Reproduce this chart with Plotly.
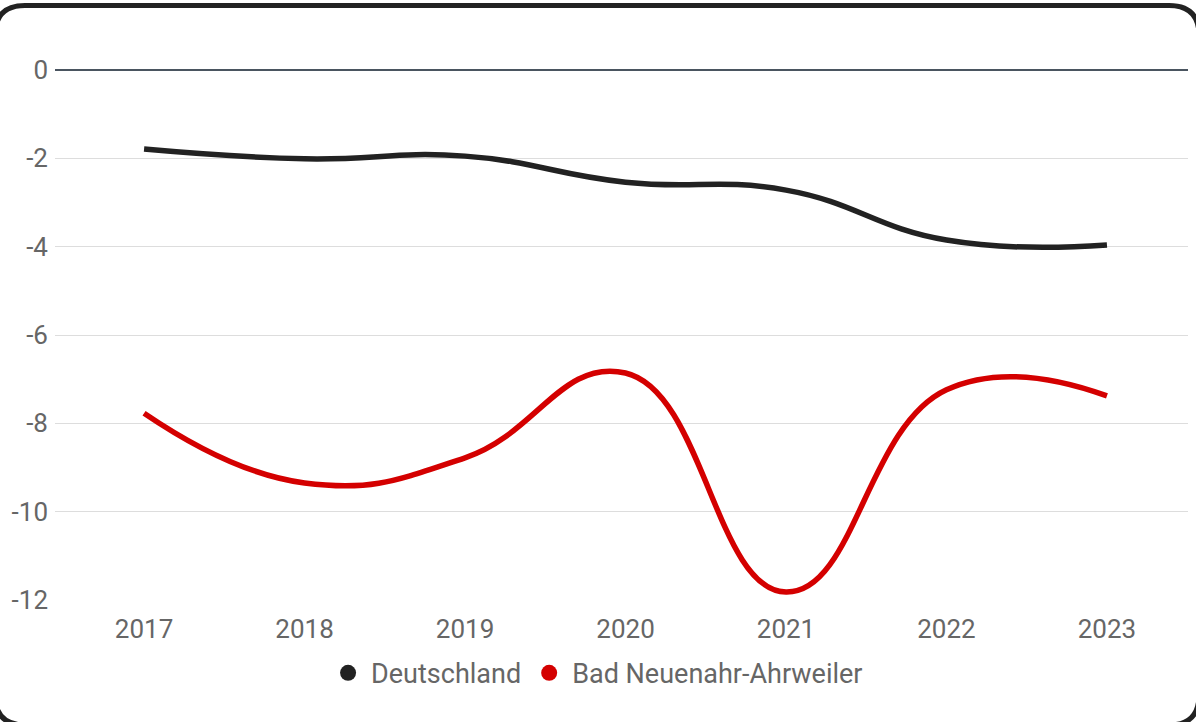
import plotly.graph_objects as go

years = [2017, 2018, 2019, 2020, 2021, 2022, 2023]
deutschland = [-1.79, -2.01, -1.95, -2.54, -2.72, -3.85, -3.96]
ahrweiler = [-7.77, -9.35, -8.78, -6.86, -11.82, -7.24, -7.38]
series_names = ["Deutschland", "Bad Neuenahr-Ahrweiler"]
series_colors = ["#222222", "#d40000"]
y_ticks = [0, -2, -4, -6, -8, -10, -12]

W, H = 1196, 722
L, R, T, B = 55, 8, 70, 122

fig = go.Figure()
for name, vals, col in zip(series_names, [deutschland, ahrweiler], series_colors):
    fig.add_trace(go.Scatter(x=years, y=vals, mode="lines", name=name,
                             line=dict(color=col, width=5.5, shape="spline", smoothing=1.3),
                             showlegend=False, hoverinfo="skip"))
for name, col in zip(series_names, series_colors):
    fig.add_trace(go.Scatter(x=[None], y=[None], mode="markers", name=name,
                             marker=dict(color=col, size=20, symbol="circle")))

pw, ph = W - L - R, H - T - B
def px(x):
    return (x - L) / pw
def py(y):
    return (H - B - y) / ph

x0, x1, y0, y1, r = -5, 1199, 5.5, 725, 30
path = (f"M {px(x0)},{py(y0 + r)} Q {px(x0)},{py(y0)} {px(x0 + r)},{py(y0)} "
        f"L {px(x1 - r)},{py(y0)} Q {px(x1)},{py(y0)} {px(x1)},{py(y0 + r)} "
        f"L {px(x1)},{py(y1 - r)} Q {px(x1)},{py(y1)} {px(x1 - r)},{py(y1)} "
        f"L {px(x0 + r)},{py(y1)} Q {px(x0)},{py(y1)} {px(x0)},{py(y1 - r)} Z")

fig.update_layout(
    width=W, height=H,
    margin=dict(l=L, r=R, t=T, b=B),
    paper_bgcolor="white", plot_bgcolor="white",
    font=dict(family="Roboto", size=26, color="#666666"),
    xaxis=dict(range=[2016.445, 2023.505], tickvals=years, ticktext=[str(y) for y in years],
               showgrid=False, zeroline=False, showline=False, ticks="", ticklen=0,
               tickfont=dict(size=26, color="#666666"), ticklabelstandoff=11),
    yaxis=dict(range=[-12, 0], tickvals=y_ticks, ticktext=[str(v) for v in y_ticks],
               showgrid=True, gridcolor="#dddddd", gridwidth=1,
               zeroline=True, zerolinecolor="#4a5560", zerolinewidth=1.5,
               ticks="", tickfont=dict(size=26, color="#666666"), ticklabelstandoff=6),
    legend=dict(orientation="h", x=0.478, xanchor="center", y=-0.092, yanchor="top",
                font=dict(size=27, color="#666666"), itemsizing="trace",
                itemwidth=36, tracegroupgap=0),
    shapes=[dict(type="path", path=path, xref="paper", yref="paper",
                 line=dict(color="#222222", width=5), layer="above")],
)

fig.write_html("out.html", config={"displayModeBar": False},
               post_script="document.body.style.margin='0';document.body.style.overflow='hidden';")
